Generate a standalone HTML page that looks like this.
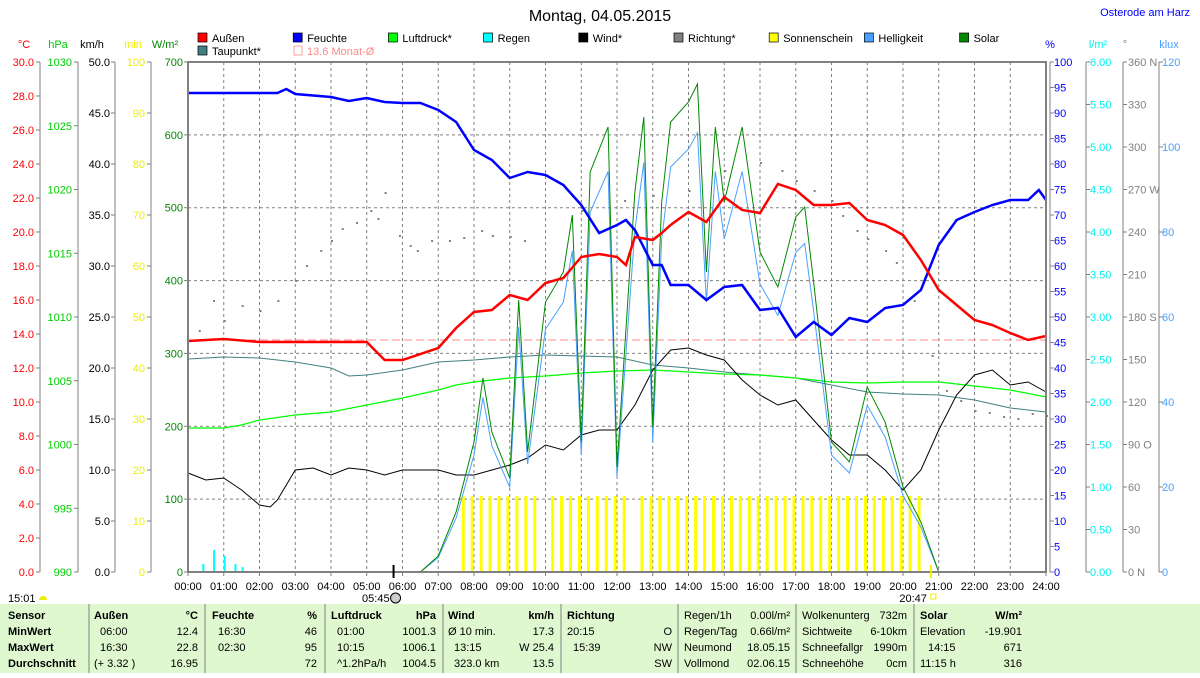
<!DOCTYPE html>
<html><head><meta charset="utf-8"><style>
body{margin:0;background:#fff;width:1200px;height:673px;overflow:hidden;font-family:"Liberation Sans",sans-serif;}
svg text{font-family:"Liberation Sans",sans-serif;font-size:11px;}
</style></head><body>
<svg id="s" width="1200" height="673" xmlns="http://www.w3.org/2000/svg"></svg>
<script>
const s=document.getElementById('s');let h='';
const L=188,R=1046,T=62,B=572,W=R-L,H=B-T;
const X=t=>L+t*W/24;
const txt=(x,y,t,c,a,extra)=>h+=`<text x="${x}" y="${y}" fill="${c||'#000'}" text-anchor="${a||'start'}" ${extra||''}>${t}</text>`;
// title
txt(600,21,'Montag, 04.05.2015','#000','middle','style="font-size:16px"');
txt(1190,16,'Osterode am Harz','#0000ff','end');
// legend
const leg=[['Außen','#f00'],['Feuchte','#00f'],['Luftdruck*','#0f0'],['Regen','#0ff'],['Wind*','#000'],['Richtung*','#808080'],['Sonnenschein','#ff0'],['Helligkeit','#4aa0ff'],['Solar','#080']];
leg.forEach((l,i)=>{const x=198+i*95.2;h+=`<rect x="${x}" y="33" width="9" height="9" fill="${l[1]}" stroke="#000" stroke-width="0.7"/>`;txt(x+14,42,l[0]);});
h+=`<rect x="198" y="46" width="9" height="9" fill="#408080" stroke="#000" stroke-width="0.7"/>`;txt(212,55,'Taupunkt*');
h+=`<rect x="294" y="46" width="8" height="9" fill="none" stroke="#f88" stroke-width="0.8"/>`;txt(307,55,'13.6 Monat-Ø','#f88');
// grid
for(let i=1;i<24;i++)h+=`<line x1="${X(i)}" y1="${T}" x2="${X(i)}" y2="${B}" stroke="#808080" stroke-dasharray="3,3"/>`;
for(let i=1;i<7;i++){const y=B-i*H/7;h+=`<line x1="${L}" y1="${y}" x2="${R}" y2="${y}" stroke="#808080" stroke-dasharray="3,3"/>`;}
// left axes
const axes=[[40,34,'°C','#f00',24,0,30,2,1],[78,72,'hPa','#0c0',58,990,1030,5,0],[115,110,'km/h','#000',92,0,50,5,1],[151,145,'min','#ee0',133,0,100,10,0],[188,183,'W/m²','#080',165,0,700,100,0]];
axes.forEach(a=>{const[ax,lx,lab,c,hx,mn,mx,st,dec]=a;
 if(ax!=L)h+=`<line x1="${ax}" y1="${T}" x2="${ax}" y2="${B}" stroke="#808080"/>`;
 txt(hx,48,lab,c,'middle');
 for(let v=mn;v<=mx+1e-9;v+=st){const y=B-(v-mn)/(mx-mn)*H;h+=`<line x1="${ax-4}" y1="${y}" x2="${ax}" y2="${y}" stroke="#808080"/>`;txt(lx,y+4,dec?v.toFixed(1):v,c,'end');}
});
const raxes=[[1050,1054,'%','#00f',1050,0,100,5,0],[1086,1090,'l/m²','#0ee',1098,0,6,0.5,2],[1123,1128,'°','#808080',1125,0,360,30,-1],[1159,1162,'klux','#4aa0ff',1169,0,120,20,0]];
const dirs={0:'N',90:'O',180:'S',270:'W',360:'N'};
raxes.forEach(a=>{const[ax,lx,lab,c,hx,mn,mx,st,dec]=a;
 h+=`<line x1="${ax}" y1="${T}" x2="${ax}" y2="${B}" stroke="#808080"/>`;
 txt(hx,48,lab,c,'middle');
 for(let v=mn;v<=mx+1e-9;v+=st){const y=B-(v-mn)/(mx-mn)*H;h+=`<line x1="${ax}" y1="${y}" x2="${ax+4}" y2="${y}" stroke="#808080"/>`;
  let t=dec==2?v.toFixed(2):Math.round(v);if(dec==-1&&dirs[v]!==undefined)t+=' '+dirs[v];txt(lx,y+4,t,c);}
});
// sunshine bars
for(let t=7.7;t<20.6;t+=0.25){if((t>9.9&&t<10.1)||(t>12.4&&t<12.6))continue;let hh=76;if(t>12.7&&t<12.8)hh=30;h+=`<rect x="${X(t)-1.5}" y="${B-hh}" width="3" height="${hh}" fill="#ff0"/>`;}
// dots
const dots=[[0.3,330],[0.7,300],[1,320],[1.5,305],[2,310],[2.5,300],[3,280],[3.3,265],[3.7,250],[4,240],[4.3,228],[4.7,222],[5.1,210],[5.3,218],[5.5,192],[5.9,235],[6.2,245],[6.4,250],[6.8,240],[7.3,240],[7.7,237],[8.2,230],[8.5,235],[9,236],[9.4,240],[11,210],[12.2,200],[13,195],[14,190],[15,170],[16,162],[16.6,170],[17,180],[17.5,190],[18,200],[18.3,215],[18.7,230],[19,238],[19.5,250],[19.8,262],[20.3,300],[20.8,355],[21.2,390],[21.6,400],[22,410],[22.4,412],[22.8,416],[23.2,418],[23.6,413],[24,415]];
dots.forEach(d=>h+=`<rect x="${X(d[0])}" y="${d[1]}" width="2" height="2" fill="#808080"/>`);
// series
const line=(pts,c,w)=>h+=`<polyline fill="none" stroke="${c}" stroke-width="${w}" points="${pts.map((p,i)=>X(p[0])+','+p[1]).join(' ')}"/>`;
h+=`<line x1="${L}" y1="340" x2="${R}" y2="340" stroke="#f88" stroke-dasharray="8,4"/>`;
line([[0,359],[1,357],[2,358],[3,362],[4,368],[4.5,376],[5,375],[6,370],[7,362],[8,360],[9,357],[10,355],[11,356],[12,357],[13,365],[14,368],[15,372],[16,375],[17,378],[18,385],[19,392],[20,394],[21,395],[22,400],[23,408],[24,412]],'#408080',1);
line([[0,428],[1,428],[1.5,425],[2,420],[3,415],[4,412],[5,405],[6,398],[7,390],[7.5,385],[8,382],[9,378],[10,376],[11,373],[12,371],[13,370],[14,372],[15,374],[16,375],[17,378],[18,382],[19,383],[20,382],[21,382],[22,386],[23,390],[24,397]],'#0f0',1.3);
line([[0,473],[0.5,480],[1,478],[1.5,490],[2,505],[2.3,507],[2.5,500],[3,470],[3.5,468],[4,475],[4.5,468],[5,470],[5.5,475],[6,470],[7,470],[7.5,475],[8,475],[8.5,470],[9,465],[9.5,458],[10,445],[10.5,450],[11,435],[11.5,430],[12,430],[12.5,405],[13,370],[13.5,350],[14,348],[14.5,355],[15,360],[15.5,380],[16,395],[16.5,405],[17,400],[17.5,420],[18,440],[18.5,455],[19,455],[19.5,470],[20,490],[20.5,470],[21,430],[21.5,395],[22,375],[22.5,370],[23,385],[23.5,382],[24,392]],'#000',1);
const sol=[[0,572],[6.5,572],[7,556],[7.5,512],[8,442],[8.25,378],[8.5,432],[9,478],[9.25,300],[9.5,452],[10,302],[10.5,272],[10.75,215],[11,442],[11.25,172],[11.75,127],[12,467],[12.5,192],[12.75,117],[13,427],[13.25,202],[13.5,122],[14,102],[14.25,84],[14.5,272],[14.75,127],[15,202],[15.5,127],[16,252],[16.5,287],[17,217],[17.25,207],[17.5,282],[18,442],[18.5,462],[19,387],[19.5,422],[20,487],[20.5,522],[21,572]];
line(sol.map(p=>[p[0],B-(B-p[1])*0.9]),'#4aa0ff',1);
line(sol,'#080',1);
line([[0,93],[2.5,93],[2.75,89],[3,94],[4,97],[4.5,101],[5,98],[5.5,102],[6,103],[6.5,103],[7,110],[7.5,122],[8,150],[8.5,160],[9,178],[9.5,172],[10,175],[10.5,185],[11,205],[11.5,233],[12,225],[12.25,220],[12.5,230],[13,265],[13.25,265],[13.5,285],[14,285],[14.5,300],[15,287],[15.5,285],[16,310],[16.5,308],[17,337],[17.5,322],[18,335],[18.5,318],[19,322],[19.5,308],[20,305],[20.5,290],[21,245],[21.5,220],[22,212],[22.5,205],[23,200],[23.5,200],[23.8,190],[24,200]],'#00f',2.5);
line([[0,341],[1,339],[2,342],[5,342],[5.5,360],[6,360],[7,348],[7.5,328],[8,312],[8.5,310],[9,295],[9.5,300],[10,283],[10.5,278],[11,257],[11.5,254],[12,257],[12.25,265],[12.5,237],[13,240],[13.25,233],[13.5,225],[14,212],[14.5,222],[15,197],[15.5,210],[16,213],[16.5,184],[17,190],[17.5,205],[18,205],[18.5,203],[19,220],[19.5,225],[20,235],[20.5,260],[21,290],[21.5,305],[22,320],[22.5,325],[23,333],[23.5,340],[24,336]],'#f00',2.5);
// small rain bars
[[0.4,8],[0.7,22],[1,16],[1.3,8],[1.5,5]].forEach(r=>h+=`<rect x="${X(r[0])}" y="${B-r[1]}" width="2" height="${r[1]}" fill="#0ff"/>`);
// frame
h+=`<rect x="${L}" y="${T}" width="${W}" height="${H}" fill="none" stroke="#808080" stroke-width="2"/>`;
// time labels
for(let i=0;i<=24;i++){h+=`<line x1="${X(i)}" y1="${B}" x2="${X(i)}" y2="${B+4}" stroke="#808080"/>`;txt(X(i),590,(i<10?'0':'')+i+':00','#000','middle');}
h+=`<line x1="${X(5.75)}" y1="565" x2="${X(5.75)}" y2="578" stroke="#000" stroke-width="2"/>`;
h+=`<line x1="${X(20.78)}" y1="565" x2="${X(20.78)}" y2="578" stroke="#ee0" stroke-width="2"/>`;
txt(X(5.75)-4,602,'05:45','#000','end');h+=`<circle cx="${X(5.75)+2}" cy="598" r="5" fill="#ccc" stroke="#000"/>`;
txt(X(20.78)-4,602,'20:47','#000','end');h+=`<rect x="${X(20.78)}" y="594" width="5" height="5" fill="none" stroke="#ee0"/>`;
txt(8,602,'15:01');h+=`<path d="M39,600 a4,4 0 0 1 8,0 z" fill="#ee0"/>`;
// table
h+=`<rect x="0" y="604" width="1200" height="69" fill="#e0f8d0"/>`;
[89,205,325,443,561,678,796,914].forEach(x=>h+=`<line x1="${x}" y1="604" x2="${x}" y2="673" stroke="#808080"/>`);
const rows=[619,635,651,667];const b='font-weight="bold"';
['Sensor','MinWert','MaxWert','Durchschnitt'].forEach((t,i)=>txt(8,rows[i],t,'#000','start',b));
const cols=[
[94,198,['Außen','°C'],[['06:00','12.4'],['16:30','22.8'],['(+ 3.32 )','16.95']]],
[212,317,['Feuchte','%'],[['16:30','46'],['02:30','95'],['','72']]],
[331,436,['Luftdruck','hPa'],[['01:00','1001.3'],['10:15','1006.1'],['^1.2hPa/h','1004.5']]],
[448,554,['Wind','km/h'],[['Ø 10 min.','17.3'],['13:15','W 25.4'],['323.0 km','13.5']]],
[567,672,['Richtung',''],[['20:15','O'],['15:39','NW'],['','SW']]]];
cols.forEach(c=>{txt(c[0],rows[0],c[2][0],'#000','start',b);txt(c[1],rows[0],c[2][1],'#000','end',b);
 c[3].forEach((r,i)=>{txt(c[0]+(i==2&&c[0]<100||c[0]>440&&i==0?0:6),rows[i+1],r[0]);txt(c[1],rows[i+1],r[1],'#000','end');});});
const c2=[[684,790,[['Regen/1h','0.00l/m²'],['Regen/Tag','0.66l/m²'],['Neumond','18.05.15'],['Vollmond','02.06.15']]],
[802,907,[['Wolkenunterg','732m'],['Sichtweite','6-10km'],['Schneefallgr','1990m'],['Schneehöhe','0cm']]],
[920,1022,[['Solar','W/m²'],['Elevation','-19.901'],['  14:15','671'],['11:15 h','316']]]];
c2.forEach(c=>c[2].forEach((r,i)=>{const e=(c[0]==920&&i==0)?b:'';txt(c[0]+(c[0]==920&&i==2?8:0),rows[i],r[0],'#000','start',e);txt(c[1],rows[i],r[1],'#000','end',e);}));
s.innerHTML=h;
</script>
</body></html>
